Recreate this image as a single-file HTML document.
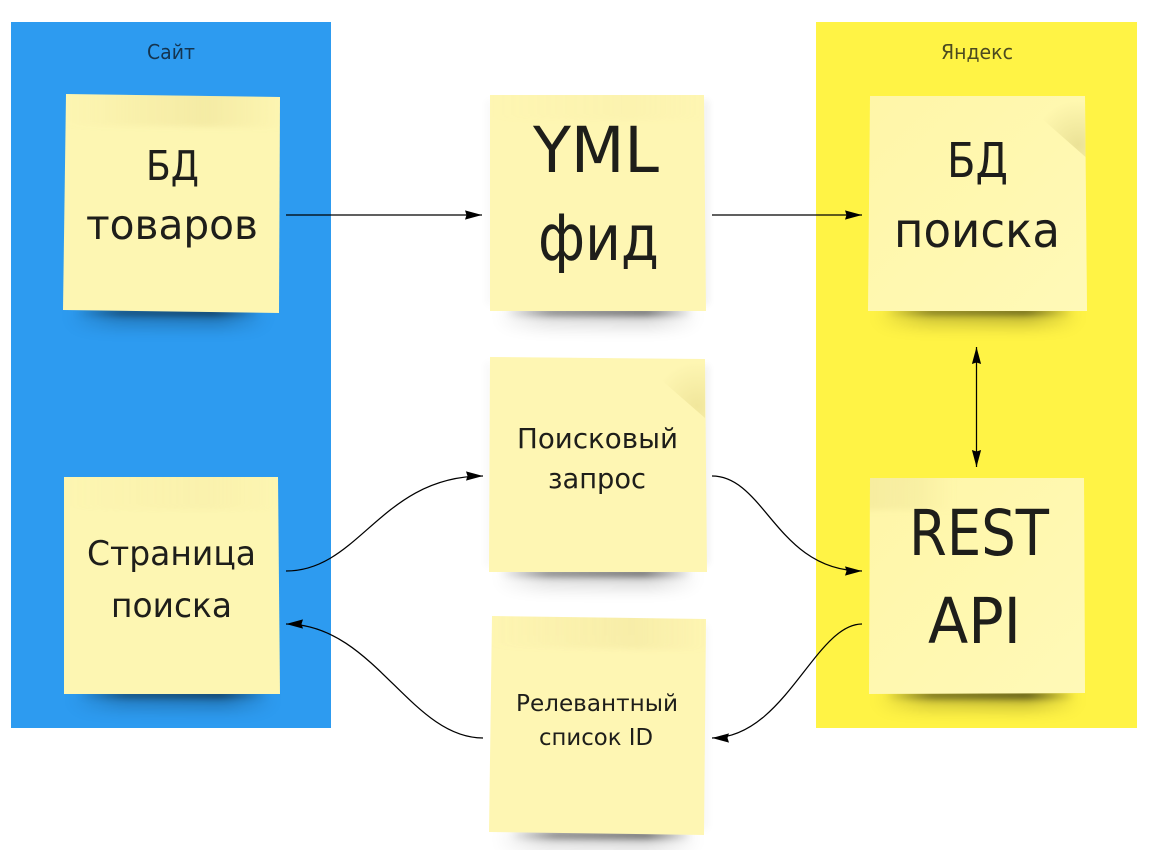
<!DOCTYPE html>
<html lang="ru">
<head>
<meta charset="utf-8">
<title>Diagram</title>
<style>
html,body{margin:0;padding:0;background:#fff;}
svg{display:block;}
text{font-family:"DejaVu Sans","Liberation Sans",sans-serif;fill:#1e1e1a;}
</style>
</head>
<body>
<svg xmlns="http://www.w3.org/2000/svg" width="1175" height="850" viewBox="0 0 1175 850">
<defs>
  <filter id="b1" x="-30%" y="-200%" width="160%" height="500%"><feGaussianBlur stdDeviation="3.5"/></filter>
  <filter id="b3" x="-30%" y="-200%" width="160%" height="500%"><feGaussianBlur stdDeviation="8"/></filter>
  <filter id="b2" x="-200%" y="-30%" width="500%" height="160%"><feGaussianBlur stdDeviation="4"/></filter>
  <filter id="b6" x="-10%" y="-50%" width="120%" height="200%"><feGaussianBlur stdDeviation="3"/></filter>
  <linearGradient id="sh" x1="0" y1="0" x2="1" y2="0">
    <stop offset="0" stop-color="#000" stop-opacity="0"/>
    <stop offset=".25" stop-color="#000" stop-opacity=".8"/>
    <stop offset=".75" stop-color="#000" stop-opacity="1"/>
    <stop offset="1" stop-color="#000" stop-opacity="0"/>
  </linearGradient>
  <linearGradient id="tape" x1="0" y1="0" x2="1" y2="0">
    <stop offset="0" stop-color="#dccb7c" stop-opacity="0"/>
    <stop offset=".25" stop-color="#dccb7c" stop-opacity=".1"/>
    <stop offset=".65" stop-color="#dccb7c" stop-opacity=".25"/>
    <stop offset="1" stop-color="#dccb7c" stop-opacity="0"/>
  </linearGradient>
  <linearGradient id="tapeL" x1="0" y1="0" x2="1" y2="0">
    <stop offset="0" stop-color="#e2d68a" stop-opacity=".3"/>
    <stop offset=".6" stop-color="#e2d68a" stop-opacity=".22"/>
    <stop offset="1" stop-color="#e2d68a" stop-opacity="0"/>
  </linearGradient>
  <linearGradient id="shade" x1="0" y1="0" x2="1" y2="1">
    <stop offset="0" stop-color="#fffcc4" stop-opacity="0"/>
    <stop offset="1" stop-color="#fffcc4" stop-opacity=".55"/>
  </linearGradient>
  <radialGradient id="f3" gradientUnits="userSpaceOnUse" cx="1078" cy="145" r="44">
    <stop offset="0" stop-color="#e0d688" stop-opacity=".65"/>
    <stop offset="1" stop-color="#e0d688" stop-opacity="0"/>
  </radialGradient>
  <radialGradient id="f4" gradientUnits="userSpaceOnUse" cx="697" cy="406" r="44">
    <stop offset="0" stop-color="#e8dc8c" stop-opacity=".6"/>
    <stop offset="1" stop-color="#e8dc8c" stop-opacity="0"/>
  </radialGradient>
  <clipPath id="c1"><polygon points="66,94 280,97 279,313 63,310"/></clipPath>
  <clipPath id="c2"><polygon points="490,95 704,95 706,311 490,311"/></clipPath>
  <clipPath id="c5"><polygon points="492,616 706,619 704,835 489,832"/></clipPath>
  <clipPath id="c6"><polygon points="64,477 278,477 280,694 64,694"/></clipPath>
  <clipPath id="c7"><polygon points="870,478 1084,478 1085,693 869,694"/></clipPath>
  <marker id="end" markerUnits="userSpaceOnUse" markerWidth="18" markerHeight="10" refX="17" refY="5" orient="auto-start-reverse">
    <path d="M0,0.4 L17,5 L0,9.6 L1.5,5 Z" fill="#000"/>
  </marker>
</defs>

<rect x="11" y="22" width="320" height="706" fill="#2d9bf0"/>
<rect x="816" y="22" width="321" height="706" fill="#fff345"/>

<text x="171" y="59" font-size="20" text-anchor="middle" textLength="48" lengthAdjust="spacingAndGlyphs" style="fill:#14344f">Сайт</text>
<text x="977" y="59" font-size="20" text-anchor="middle" textLength="72" lengthAdjust="spacingAndGlyphs" style="fill:#4c4a20">Яндекс</text>

<!-- soft wide shadows -->
<g>
  <rect x="68" y="306" width="200" height="20" fill="url(#sh)" opacity=".25" filter="url(#b3)"/>
  <rect x="495" y="305" width="205" height="22" fill="url(#sh)" opacity=".16" filter="url(#b3)"/>
  <rect x="875" y="305" width="205" height="20" fill="url(#sh)" opacity=".25" filter="url(#b3)"/>
  <rect x="495" y="566" width="205" height="22" fill="url(#sh)" opacity=".16" filter="url(#b3)"/>
  <rect x="495" y="828" width="205" height="22" fill="url(#sh)" opacity=".16" filter="url(#b3)"/>
  <rect x="70" y="688" width="205" height="20" fill="url(#sh)" opacity=".25" filter="url(#b3)"/>
  <rect x="875" y="688" width="205" height="20" fill="url(#sh)" opacity=".25" filter="url(#b3)"/>
</g>
<!-- tight shadows -->
<g>
  <rect x="75" y="309" width="185" height="7" fill="url(#sh)" opacity=".5" filter="url(#b1)"/>
  <rect x="505" y="308" width="188" height="8" fill="url(#sh)" opacity=".5" filter="url(#b1)"/>
  <rect x="885" y="308" width="188" height="7" fill="url(#sh)" opacity=".5" filter="url(#b1)"/>
  <rect x="500" y="569" width="192" height="8" fill="url(#sh)" opacity=".5" filter="url(#b1)"/>
  <rect x="510" y="831" width="182" height="8" fill="url(#sh)" opacity=".5" filter="url(#b1)"/>
  <rect x="78" y="691" width="190" height="7" fill="url(#sh)" opacity=".5" filter="url(#b1)"/>
  <rect x="885" y="691" width="190" height="8" fill="url(#sh)" opacity=".55" filter="url(#b1)"/>
  <rect x="702" y="100" width="6" height="205" fill="#000" opacity=".08" filter="url(#b2)"/>
  <rect x="702" y="365" width="6" height="200" fill="#000" opacity=".08" filter="url(#b2)"/>
  <rect x="702" y="625" width="5" height="205" fill="#000" opacity=".05" filter="url(#b2)"/>
  <rect x="487" y="100" width="5" height="205" fill="#000" opacity=".04" filter="url(#b2)"/>
  <rect x="486" y="362" width="5" height="205" fill="#000" opacity=".04" filter="url(#b2)"/>
</g>

<!-- notes -->
<polygon points="66,94 280,97 279,313 63,310" fill="#fdf6b2"/>
<g clip-path="url(#c1)"><polygon points="60,85 285,85 285,128 60,125" fill="url(#tape)" filter="url(#b6)"/></g>

<polygon points="490,95 704,95 706,311 490,311" fill="#fef6b3"/>
<g clip-path="url(#c2)"><polygon points="485,85 710,85 710,120 485,120" fill="url(#tape)" opacity=".25" filter="url(#b6)"/></g>

<polygon points="870,96 1085,96 1087,311 868,311" fill="#fff6a8"/>
<polygon points="870,96 1085,96 1087,311 868,311" fill="url(#shade)"/>
<polygon points="1040,117 1085.5,157 1085,96 1040,96" fill="url(#f3)"/>

<polygon points="490,357 705,359 707,572 489,572" fill="#fef6b3"/>
<polygon points="659,378 705,418 705,359 659,358" fill="url(#f4)"/>

<polygon points="492,616 706,619 704,835 489,832" fill="#fef6b3"/>
<g clip-path="url(#c5)"><polygon points="486,606 712,606 712,650 486,647" fill="url(#tape)" opacity=".75" filter="url(#b6)"/></g>

<polygon points="64,477 278,477 280,694 64,694" fill="#fdf6b2"/>
<g clip-path="url(#c6)"><polygon points="58,467 284,467 284,510 58,510" fill="url(#tape)" opacity=".35" filter="url(#b6)"/></g>

<polygon points="870,478 1084,478 1085,693 869,694" fill="#fff6a8"/>
<polygon points="870,478 1084,478 1085,693 869,694" fill="url(#shade)"/>
<g clip-path="url(#c7)"><polygon points="860,468 955,468 955,510 860,510" fill="url(#tapeL)" filter="url(#b6)"/></g>

<!-- note text -->
<text x="172.5" y="180" font-size="41" text-anchor="middle" textLength="53" lengthAdjust="spacingAndGlyphs">БД</text>
<text x="172" y="239" font-size="41" text-anchor="middle" textLength="172" lengthAdjust="spacingAndGlyphs">товаров</text>

<text x="596" y="172" font-size="63" text-anchor="middle" textLength="126" lengthAdjust="spacingAndGlyphs">YML</text>
<text x="598.5" y="260" font-size="63" text-anchor="middle" textLength="121" lengthAdjust="spacingAndGlyphs">фид</text>

<text x="977.5" y="177" font-size="48" text-anchor="middle" textLength="61" lengthAdjust="spacingAndGlyphs">БД</text>
<text x="977" y="247" font-size="48" text-anchor="middle" textLength="166" lengthAdjust="spacingAndGlyphs">поиска</text>

<text x="597.5" y="448" font-size="28" text-anchor="middle" textLength="161" lengthAdjust="spacingAndGlyphs">Поисковый</text>
<text x="597" y="488" font-size="28" text-anchor="middle" textLength="98" lengthAdjust="spacingAndGlyphs">запрос</text>

<text x="597" y="711" font-size="23.5" text-anchor="middle" textLength="162" lengthAdjust="spacingAndGlyphs">Релевантный</text>
<text x="596" y="745" font-size="23.5" text-anchor="middle" textLength="114" lengthAdjust="spacingAndGlyphs">список ID</text>

<text x="171.5" y="565" font-size="34" text-anchor="middle" textLength="169" lengthAdjust="spacingAndGlyphs">Страница</text>
<text x="171.5" y="617" font-size="34" text-anchor="middle" textLength="121" lengthAdjust="spacingAndGlyphs">поиска</text>

<text x="979" y="555" font-size="63" text-anchor="middle" textLength="140" lengthAdjust="spacingAndGlyphs">REST</text>
<text x="974.5" y="643" font-size="63" text-anchor="middle" textLength="93" lengthAdjust="spacingAndGlyphs">API</text>

<!-- connectors -->
<g fill="none" stroke="#000" stroke-width="1.25">
  <path d="M286,215 H482" marker-end="url(#end)"/>
  <path d="M712,215 H862" marker-end="url(#end)"/>
  <path d="M976.5,347 V467" marker-start="url(#end)" marker-end="url(#end)"/>
  <path d="M286,571 C360,571 381,476 483,476" marker-end="url(#end)"/>
  <path d="M712,476 C765,476 777,571 862,571" marker-end="url(#end)"/>
  <path d="M862,624 C815,624 785,738 712,738" marker-end="url(#end)"/>
  <path d="M483,738 C410,738 374,624 286,624" marker-end="url(#end)"/>
</g>
</svg>
</body>
</html>
